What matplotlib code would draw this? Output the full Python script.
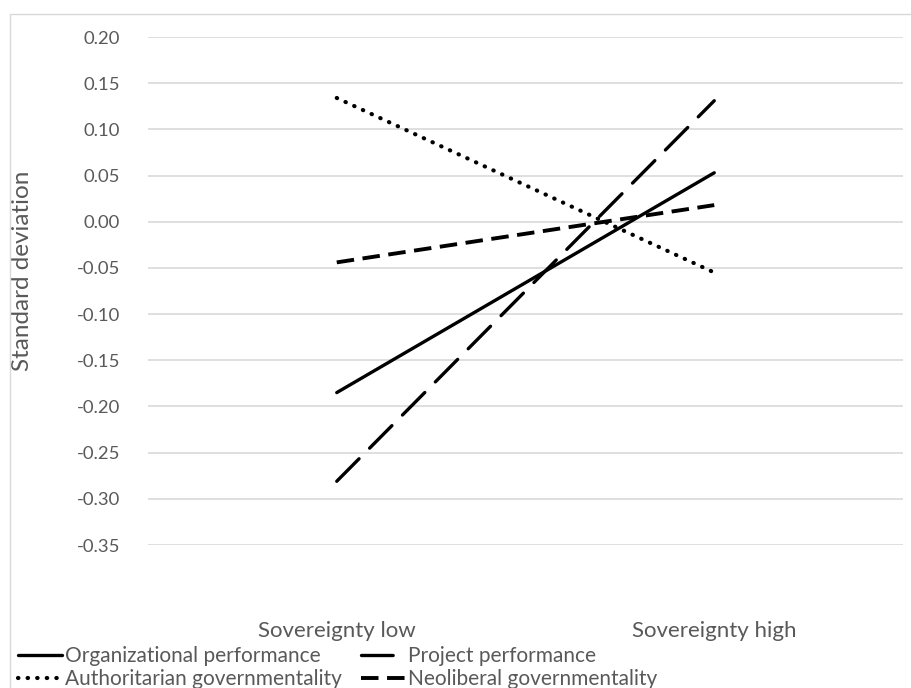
import matplotlib
matplotlib.use('Agg')
import matplotlib.pyplot as plt
from matplotlib.patches import Rectangle

plt.rcParams['font.family'] = ['Lato', 'DejaVu Sans']

# 数据
categories = ['Sovereignty low', 'Sovereignty high']
org_perf = [-0.185, 0.053]
proj_perf = [-0.281, 0.131]
auth_gov = [0.134, -0.055]
neo_gov = [-0.044, 0.018]
y_ticks = [0.20, 0.15, 0.10, 0.05, 0.00, -0.05, -0.10, -0.15, -0.20, -0.25, -0.30, -0.35]

TEXT = '#595959'
GRID = '#d9d9d9'

fig = plt.figure(figsize=(9.12, 6.88), dpi=100)
# 外框
fig.patches.append(Rectangle((10 / 912, -0.1), 1.1, (688 - 14) / 688 + 0.1,
                             transform=fig.transFigure, fill=False,
                             edgecolor=GRID, linewidth=1))

ax = fig.add_axes([148 / 912, (688 - 545) / 688, (903 - 148) / 912, (545 - 37) / 688])
x = list(range(len(categories)))

lw = 2.4
l1, = ax.plot(x, org_perf, color='black', linewidth=lw, solid_capstyle='round',
              label='Organizational performance')
l2, = ax.plot(x, proj_perf, color='black', linewidth=lw, linestyle=(0, (9.5, 4.5)),
              dash_capstyle='round', label='Project performance')
l3, = ax.plot(x, auth_gov, color='black', linewidth=3.0, linestyle=(0, (0.1, 2.2)),
              dash_capstyle='round', label='Authoritarian governmentality')
l4, = ax.plot(x, neo_gov, color='black', linewidth=lw + 0.4, linestyle=(0, (4.5, 2.2)),
              label='Neoliberal governmentality')

ax.set_xlim(-0.5, 1.5)
ax.set_ylim(min(y_ticks), max(y_ticks))
ax.set_yticks(y_ticks)
ax.set_yticklabels([f'{v:.2f}' for v in y_ticks])
ax.set_xticks(x)
ax.set_xticklabels(categories)
ax.grid(True, axis='y', color=GRID, linewidth=1.2)
ax.set_axisbelow(True)
for s in ax.spines.values():
    s.set_visible(False)
ax.tick_params(axis='y', length=0, pad=20, labelsize=13.3, labelcolor=TEXT)
ax.tick_params(axis='x', length=0, pad=55, labelsize=16, labelcolor=TEXT)

ax.set_ylabel('Standard deviation', fontsize=17.5, color=TEXT)
ax.yaxis.set_label_coords(-0.152, 0.54)

leg = fig.legend([l1, l3, l2, l4],
                 [l1.get_label(), l3.get_label(), l2.get_label(), l4.get_label()],
                 ncol=2, loc='lower left', bbox_to_anchor=(10 / 912, -0.014),
                 frameon=False, fontsize=15, labelcolor=TEXT,
                 handlelength=2.1, handletextpad=0.15, columnspacing=0.9,
                 labelspacing=0.15, borderaxespad=0.0)

fig.savefig('out.png', dpi=100)
